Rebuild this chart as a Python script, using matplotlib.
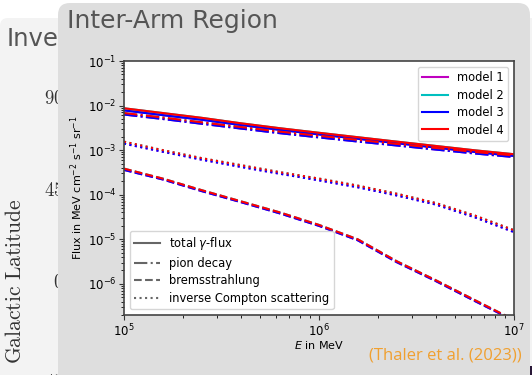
import matplotlib
matplotlib.use("Agg")
import matplotlib.pyplot as plt
from matplotlib.patches import FancyBboxPatch, Rectangle
from matplotlib.lines import Line2D

plt.rcParams["mathtext.fontset"] = "dejavusans"

# photon energy grid in MeV
energy = [1.0e5, 1.58e5, 2.51e5, 3.98e5, 6.31e5, 1.0e6,
          1.58e6, 2.51e6, 3.98e6, 6.31e6, 1.0e7]

# flux components, lower set (models 1 and 3)
total_low = [7.8e-3, 6.1e-3, 4.8e-3, 3.65e-3, 2.85e-3, 2.25e-3,
             1.8e-3, 1.43e-3, 1.14e-3, 9.1e-4, 7.4e-4]
pion_low = [6.3e-3, 5.0e-3, 3.9e-3, 3.05e-3, 2.4e-3, 1.93e-3,
            1.56e-3, 1.27e-3, 1.03e-3, 8.4e-4, 7.0e-4]
brems_low = [3.6e-4, 2.2e-4, 1.2e-4, 6.8e-5, 3.8e-5, 2.0e-5,
             9.5e-6, 3.05e-6, 1.15e-6, 4.1e-7, 1.5e-7]
ic_low = [1.4e-3, 9.2e-4, 6.1e-4, 4.2e-4, 2.95e-4, 2.1e-4,
          1.47e-4, 9.6e-5, 6.0e-5, 3.1e-5, 1.45e-5]

# flux components, upper set (models 2 and 4)
total_high = [8.7e-3, 6.8e-3, 5.3e-3, 4.0e-3, 3.1e-3, 2.45e-3,
              1.95e-3, 1.55e-3, 1.24e-3, 9.9e-4, 8.1e-4]
pion_high = [6.8e-3, 5.4e-3, 4.2e-3, 3.3e-3, 2.6e-3, 2.1e-3,
             1.7e-3, 1.38e-3, 1.12e-3, 9.1e-4, 7.6e-4]
brems_high = [3.85e-4, 2.3e-4, 1.26e-4, 7.1e-5, 4.0e-5, 2.1e-5,
              1.0e-5, 3.2e-6, 1.2e-6, 4.3e-7, 1.55e-7]
ic_high = [1.55e-3, 1.0e-3, 6.6e-4, 4.6e-4, 3.2e-4, 2.3e-4,
           1.6e-4, 1.05e-4, 6.5e-5, 3.4e-5, 1.6e-5]

model_names = ["model 1", "model 2", "model 3", "model 4"]
model_colors = ["m", "c", "b", "r"]
model_sets = [
    (total_low, pion_low, brems_low, ic_low),
    (total_high, pion_high, brems_high, ic_high),
    (total_low, pion_low, brems_low, ic_low),
    (total_high, pion_high, brems_high, ic_high),
]

component_names = ["total $\\gamma$-flux", "pion decay",
                   "bremsstrahlung", "inverse Compton scattering"]
component_styles = ["-", "-.", "--", ":"]

lat_ticks = ["90", "45", "0", "-45"]
lat_tick_y = [98, 190, 282, 383]

W, H = 532, 375
fig = plt.figure(figsize=(W / 100, H / 100), dpi=100)
fig.patch.set_facecolor("white")

# pixel-space canvas for the slide panels
bg = fig.add_axes([0, 0, 1, 1], zorder=0)
bg.set_xlim(0, W)
bg.set_ylim(H, 0)
bg.axis("off")

back_panel = FancyBboxPatch((0, 18), 700, 500,
                            boxstyle="round,pad=0,rounding_size=8",
                            fc="#f3f3f3", ec="none", zorder=1)
bg.add_patch(back_panel)
bg.add_patch(Rectangle((527, 366), 10, 12, fc="#2a1838", ec="none",
                       zorder=2))
bg.text(7, 39, "Inve", fontsize=17.5, family="DejaVu Sans", color="#555555",
        va="center", ha="left", zorder=2)
bg.text(15, 281, r"$\mathrm{Galactic\ Latitude}$", fontsize=15.5,
        math_fontfamily="cm", color="#333333", rotation=90,
        va="center", ha="center", zorder=2)
for lab, yy in zip(lat_ticks, lat_tick_y):
    bg.text(64, yy, "$\\mathrm{%s}$" % lab,
            fontsize=13.5, math_fontfamily="cm", color="#333333",
            va="center", ha="right", zorder=2)

front_panel = FancyBboxPatch((58, 3), 472, 500,
                             boxstyle="round,pad=0,rounding_size=12",
                             fc="#dedede", ec="none", zorder=3)
bg.add_patch(front_panel)
bg.text(67, 21, "Inter-Arm Region", fontsize=18, family="DejaVu Sans",
        color="#555555", va="center", ha="left", zorder=4)
bg.text(522, 356, "(Thaler et al. (2023))", fontsize=12, family="Open Sans",
        color="#f0a030", va="center", ha="right", zorder=4)

# spectrum axes
ax = fig.add_axes([124 / W, 1 - 315 / H, (514 - 124) / W, (315 - 61) / H],
                  zorder=5)
ax.set_facecolor("white")
for name, color, comps in zip(model_names, model_colors, model_sets):
    for flux, ls in zip(comps, component_styles):
        ax.plot(energy, flux, color=color, ls=ls, lw=1.5)

ax.set_xscale("log")
ax.set_yscale("log")
ax.set_xlim(1e5, 1e7)
ax.set_ylim(2e-7, 1e-1)
ax.set_xlabel("$E$ in MeV", fontsize=8, labelpad=0)
ax.set_ylabel("Flux in MeV cm$^{-2}$ s$^{-1}$ sr$^{-1}$", fontsize=8,
              labelpad=2)
ax.tick_params(labelsize=8.5, color="#333333", pad=2)
for sp in ax.spines.values():
    sp.set_color("#444444")
    sp.set_linewidth(1.2)

model_handles = [Line2D([], [], color=c, lw=1.5) for c in model_colors]
leg1 = ax.legend(model_handles, model_names, loc="upper right", fontsize=8.3,
                 handlelength=2.2, borderpad=0.4, labelspacing=0.38)
ax.add_artist(leg1)
style_handles = [Line2D([], [], color="#666666", ls=s, lw=1.5)
                 for s in component_styles]
ax.legend(style_handles, component_names, loc="lower left", fontsize=8.3,
          handlelength=2.2, borderpad=0.4, labelspacing=0.38)

fig.savefig("out.png", dpi=100)
